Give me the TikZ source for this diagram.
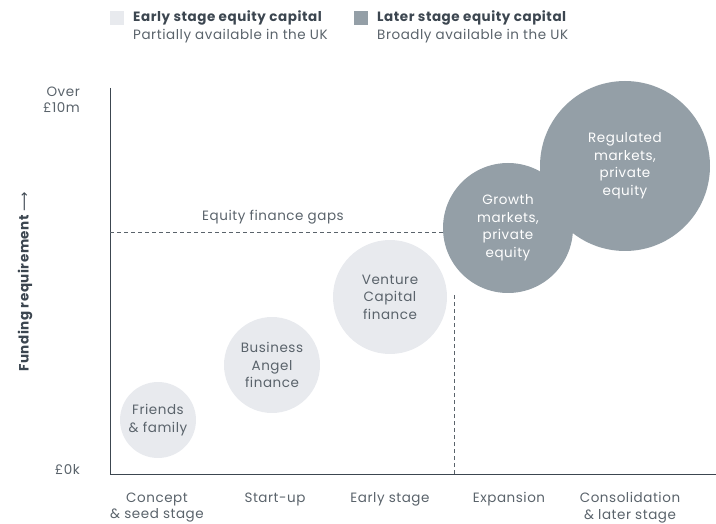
\documentclass[tikz,border=0pt]{standalone}
\usepackage{fontspec}
\setmainfont{Poppins}[LetterSpace=4]
\newfontfamily\symfont{DejaVu Sans}
\begin{document}
\definecolor{early}{HTML}{E8EAEE}
\definecolor{later}{HTML}{949FA7}
\definecolor{ink}{HTML}{3C4650}
\definecolor{soft}{HTML}{5A636B}
\begin{tikzpicture}[x=1pt,y=-1pt,
  txt/.style={font=\fontsize{13.5}{16.5}\selectfont, text=soft, align=center, inner sep=0pt},
  bubble/.style={circle, draw=none, minimum size=#1, inner sep=0pt, align=center,
    font=\fontsize{13.5}{17.5}\selectfont},
  lightb/.style={fill=early, text=soft},
  darkb/.style={fill=later, text=white},
  gap/.style={draw=soft, dash pattern=on 4pt off 3pt, line width=0.7pt}]
\useasboundingbox (0,0) rectangle (716,524);

% legend
\node[fill=early, minimum size=14pt, inner sep=0pt] (k1) at (117,18) {};
\node[txt, anchor=west, align=left, text=ink] (l1) at (133,18) {\bfseries Early stage equity capital};
\node[txt, anchor=west, align=left] (l1b) at (133,36) {Partially available in the UK};
\node[fill=later, minimum size=14pt, inner sep=0pt] (k2) at (361,18) {};
\node[txt, anchor=west, align=left, text=ink] (l2) at (377,18) {\bfseries Later stage equity capital};
\node[txt, anchor=west, align=left] (l2b) at (377,36) {Broadly available in the UK};

% axes
\coordinate (top) at (110,88);
\coordinate (origin) at (110,474);
\coordinate (right) at (716,474);
\draw[ink, line width=1pt] (top) -- (origin) -- (right);

% y-axis labels
\node[txt, anchor=east, align=right] (ymax) at (80,100) {Over\\£10m};
\node[txt, anchor=east] (ymin) at (80,470) {£0k};
\node[txt, rotate=90, text=ink] (ylab) at (25,282) {\bfseries Funding requirement {\symfont\mdseries ⟶}};

% bubbles
\node[bubble=76pt, lightb] (ff) at (158,420) {Friends\\\& family};
\node[bubble=96pt, lightb] (ba) at (272,365) {Business\\Angel\\finance};
\node[bubble=114pt, lightb] (vc) at (390,297) {Venture\\Capital\\finance};
\node[bubble=170pt, darkb] (rm) at (625,166) {Regulated\\markets,\\private\\equity};
\node[bubble=130pt, darkb] (gm) at (508,228) {Growth\\markets,\\private\\equity};

% equity finance gaps
\coordinate (gapL) at (110,232);
\draw[gap] (gapL) -- (gm.west |- gapL);
\coordinate (gapB) at (454,474);
\draw[gap] (gapB) -- (gapB |- gm.south) ;
\node[txt] (gaps) at (273,217) {Equity finance gaps};

% stage labels
\node[txt] (s1) at (157,507.5) {Concept\\\& seed stage};
\node[txt] (s2) at (275,499) {Start-up};
\node[txt] (s3) at (390,499) {Early stage};
\node[txt] (s4) at (509,499) {Expansion};
\node[txt] (s5) at (630,507.5) {Consolidation\\\& later stage};
\end{tikzpicture}
\end{document}
